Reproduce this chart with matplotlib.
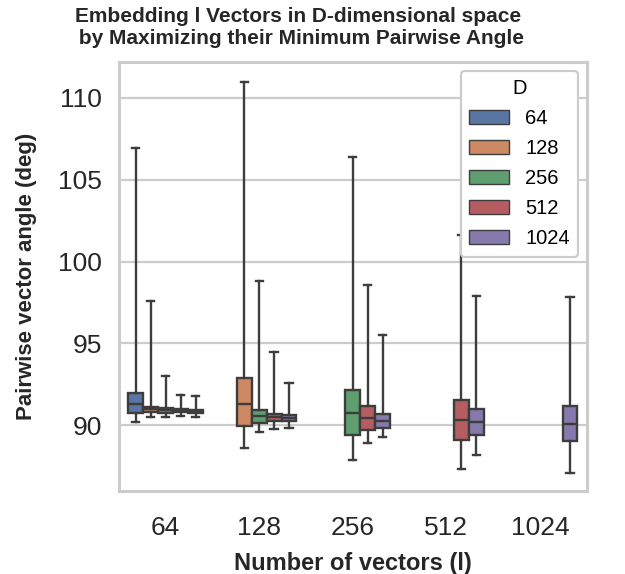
import colorsys

import matplotlib
matplotlib.use("Agg")
import matplotlib.pyplot as plt
import numpy as np
from matplotlib.colors import to_rgb
from matplotlib.patches import Patch

# categories
n_vectors = [64, 128, 256, 512, 1024]
dims = [64, 128, 256, 512, 1024]

# box statistics, rows = D, columns = number of vectors (nan where D < l)
nan = np.nan
whis_lo = [
    [90.18, nan, nan, nan, nan],
    [90.47, 88.63, nan, nan, nan],
    [90.47, 89.61, 87.86, nan, nan],
    [90.53, 89.77, 88.88, 87.34, nan],
    [90.47, 89.83, 89.26, 88.20, 87.06],
]
q1 = [
    [90.76, nan, nan, nan, nan],
    [90.80, 89.97, nan, nan, nan],
    [90.76, 90.16, 89.40, nan, nan],
    [90.78, 90.23, 89.71, 89.10, nan],
    [90.75, 90.23, 89.83, 89.40, 89.06],
]
median = [
    [91.32, nan, nan, nan, nan],
    [90.96, 91.27, nan, nan, nan],
    [90.90, 90.54, 90.74, nan, nan],
    [90.88, 90.47, 90.41, 90.33, nan],
    [90.85, 90.43, 90.23, 90.20, 90.08],
]
q3 = [
    [91.95, nan, nan, nan, nan],
    [91.10, 92.87, nan, nan, nan],
    [91.04, 90.94, 92.13, nan, nan],
    [91.00, 90.67, 91.17, 91.52, nan],
    [90.95, 90.61, 90.66, 91.00, 91.15],
]
whis_hi = [
    [106.95, nan, nan, nan, nan],
    [97.60, 110.98, nan, nan, nan],
    [92.99, 98.83, 106.40, nan, nan],
    [91.86, 94.47, 98.59, 101.60, nan],
    [91.76, 92.56, 95.52, 97.90, 97.83],
]

palette = ["#4C72B0", "#DD8452", "#55A868", "#C44E52", "#8172B3"]


def desaturate(color, prop=0.75):
    h, l, s = colorsys.rgb_to_hls(*to_rgb(color))
    return colorsys.hls_to_rgb(h, l, s * prop)


plt.rcParams["font.family"] = ["Liberation Sans", "DejaVu Sans"]
text_color = "#262626"
line_color = "#3d3d3d"

fig = plt.figure(figsize=(6.25, 5.74), dpi=100)
ax = fig.add_axes([0.19, 0.145, 0.749, 0.747])

n_hue = len(dims)
slot = 0.8 / n_hue
for j, d in enumerate(dims):
    stats, pos = [], []
    for i, l in enumerate(n_vectors):
        if np.isnan(median[j][i]):
            continue
        stats.append({
            "whislo": whis_lo[j][i], "q1": q1[j][i], "med": median[j][i],
            "q3": q3[j][i], "whishi": whis_hi[j][i], "fliers": [],
        })
        pos.append(i + (j - (n_hue - 1) / 2) * slot)
    color = desaturate(palette[j])
    line = dict(color=line_color, linewidth=1.7)
    ax.bxp(stats, positions=pos, widths=slot * 0.98, patch_artist=True,
           showfliers=False, manage_ticks=False,
           boxprops=dict(facecolor=color, edgecolor=line_color, linewidth=1.7),
           medianprops=line, whiskerprops=line, capprops=line, zorder=3)

ax.set_xlim(-0.5, len(n_vectors) - 0.5)
ax.set_ylim(85.99, 112.2)
ax.set_xticks(range(len(n_vectors)))
ax.set_xticklabels([str(l) for l in n_vectors])
ax.set_yticks([90, 95, 100, 105, 110])

ax.grid(axis="y", color="#cccccc", linewidth=1.6, zorder=0)
ax.set_axisbelow(True)
for s in ax.spines.values():
    s.set_color("#cccccc")
    s.set_linewidth(2.2)
ax.tick_params(axis="both", length=0, labelsize=19, colors=text_color, pad=12)
ax.tick_params(axis="x", pad=18)

ax.set_xlabel("Number of vectors (l)", fontsize=17, fontweight="bold",
              color=text_color, labelpad=9)
ax.set_ylabel("Pairwise vector angle (deg)", fontsize=16, fontweight="bold",
              color=text_color, labelpad=15)
fig.text(0.477, 0.988,
         "Embedding l Vectors in D-dimensional space\n by Maximizing their Minimum Pairwise Angle",
         ha="center", va="top", fontsize=15, fontweight="bold", color=text_color,
         linespacing=1.2)

handles = [Patch(facecolor=desaturate(c), edgecolor=line_color, linewidth=1.0)
           for c in palette]
leg = ax.legend(handles, [str(d) for d in dims], title="D", loc="upper right",
                fontsize=14.5, title_fontsize=14.5, handlelength=2.0,
                handleheight=0.7, handletextpad=0.8, labelspacing=0.55,
                borderaxespad=0.45, frameon=True,
                edgecolor="#cccccc", framealpha=1.0, fancybox=True)
leg.get_frame().set_linewidth(1.6)
leg.set_zorder(5)

fig.savefig("out.png")
